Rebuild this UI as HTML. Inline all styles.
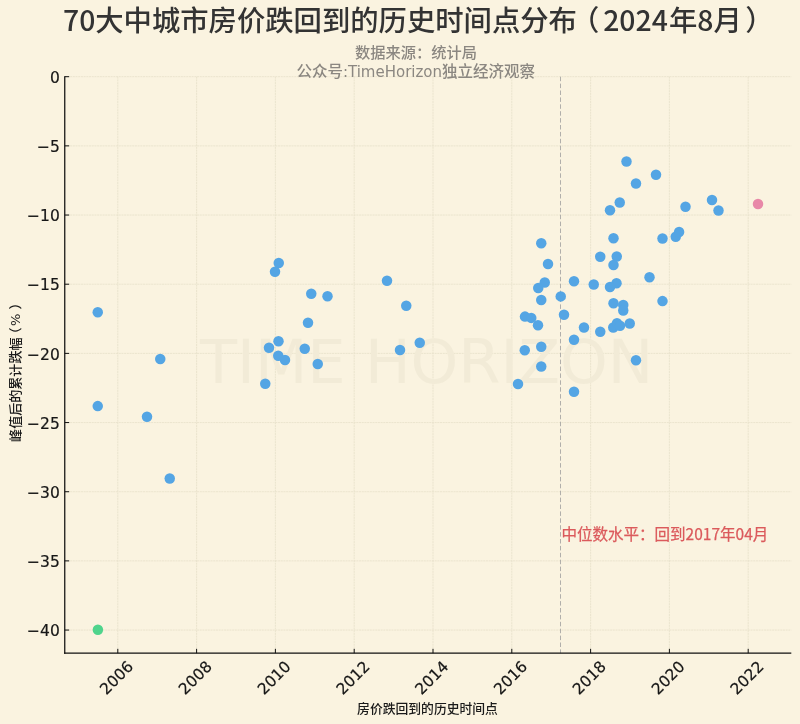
<!DOCTYPE html>
<html lang="zh"><head><meta charset="utf-8"><title>70大中城市房价跌回到的历史时间点分布</title>
<style>
html,body{margin:0;padding:0;background:#faf3e0;}
body{width:800px;height:724px;overflow:hidden;position:relative;}
svg{position:absolute;left:0;top:0;display:block}
.tk{font-family:"DejaVu Sans","Liberation Sans",sans-serif;font-size:15.5px;fill:#161616;stroke:#161616;stroke-width:0.2px}
.cj{font-family:"Liberation Sans","Noto Sans CJK SC",sans-serif}
.ttl{font-family:"Noto Sans CJK SC","Liberation Sans",sans-serif;font-weight:500;font-size:28.33px;fill:#333}
.sub{font-family:"DejaVu Sans","Noto Sans CJK SC",sans-serif;font-weight:500;font-size:15.25px;fill:#8b8781}
.lat{font-size:15px;font-weight:400}
.ann{font-family:"Noto Sans CJK SC","Liberation Sans",sans-serif;font-weight:400;font-size:15.52px;fill:#db5a5c;stroke:#db5a5c;stroke-width:0.25px}
.axl{font-family:"DejaVu Sans","Noto Sans CJK SC",sans-serif;font-weight:500;font-size:12.8px;fill:#1a1a1a}
.wm{font-family:"DejaVu Sans","Liberation Sans",sans-serif;font-size:60.7px;fill:#f2ebd7}
</style></head><body>
<svg width="800" height="724" viewBox="0 0 800 724">
<rect x="0" y="0" width="800" height="724" fill="#faf3e0"/>

<g stroke="#e9e2cc" stroke-width="0.9" stroke-dasharray="2 0.7" fill="none">
<line x1="117.80" y1="76.7" x2="117.80" y2="653.2"/>
<line x1="196.60" y1="76.7" x2="196.60" y2="653.2"/>
<line x1="275.40" y1="76.7" x2="275.40" y2="653.2"/>
<line x1="354.20" y1="76.7" x2="354.20" y2="653.2"/>
<line x1="433.00" y1="76.7" x2="433.00" y2="653.2"/>
<line x1="511.80" y1="76.7" x2="511.80" y2="653.2"/>
<line x1="590.60" y1="76.7" x2="590.60" y2="653.2"/>
<line x1="669.40" y1="76.7" x2="669.40" y2="653.2"/>
<line x1="748.20" y1="76.7" x2="748.20" y2="653.2"/>
<line x1="64.75" y1="76.70" x2="791.3" y2="76.70"/>
<line x1="64.75" y1="145.87" x2="791.3" y2="145.87"/>
<line x1="64.75" y1="215.04" x2="791.3" y2="215.04"/>
<line x1="64.75" y1="284.21" x2="791.3" y2="284.21"/>
<line x1="64.75" y1="353.38" x2="791.3" y2="353.38"/>
<line x1="64.75" y1="422.55" x2="791.3" y2="422.55"/>
<line x1="64.75" y1="491.72" x2="791.3" y2="491.72"/>
<line x1="64.75" y1="560.89" x2="791.3" y2="560.89"/>
<line x1="64.75" y1="630.06" x2="791.3" y2="630.06"/>
</g>
<text class="wm" x="426.6" y="382.6" text-anchor="middle">TIME HORIZON</text>
<line x1="560.5" y1="76.7" x2="560.5" y2="653.2" stroke="#a3a3a0" stroke-width="0.85" stroke-dasharray="4.5 2.4"/>
<g fill="#54a5e4">
<circle cx="97.75" cy="312.25" r="5.25"/>
<circle cx="160.25" cy="359" r="5.25"/>
<circle cx="97.75" cy="406.1" r="5.25"/>
<circle cx="147" cy="416.75" r="5.25"/>
<circle cx="169.75" cy="478.5" r="5.25"/>
<circle cx="278.75" cy="263" r="5.25"/>
<circle cx="275" cy="271.75" r="5.25"/>
<circle cx="311.25" cy="293.75" r="5.25"/>
<circle cx="327.5" cy="296.25" r="5.25"/>
<circle cx="308" cy="322.75" r="5.25"/>
<circle cx="278.5" cy="341.25" r="5.25"/>
<circle cx="269" cy="347.75" r="5.25"/>
<circle cx="278.25" cy="355.75" r="5.25"/>
<circle cx="285" cy="360" r="5.25"/>
<circle cx="304.75" cy="348.75" r="5.25"/>
<circle cx="317.75" cy="364" r="5.25"/>
<circle cx="265.25" cy="383.75" r="5.25"/>
<circle cx="387" cy="280.75" r="5.25"/>
<circle cx="406.25" cy="305.75" r="5.25"/>
<circle cx="419.75" cy="342.75" r="5.25"/>
<circle cx="400" cy="350" r="5.25"/>
<circle cx="626.5" cy="161.5" r="5.25"/>
<circle cx="656" cy="174.75" r="5.25"/>
<circle cx="636" cy="183.5" r="5.25"/>
<circle cx="619.75" cy="202.5" r="5.25"/>
<circle cx="610" cy="210.25" r="5.25"/>
<circle cx="613.5" cy="238.25" r="5.25"/>
<circle cx="662.5" cy="238.5" r="5.25"/>
<circle cx="675.75" cy="236.75" r="5.25"/>
<circle cx="679.1" cy="232" r="5.25"/>
<circle cx="541.25" cy="243.25" r="5.25"/>
<circle cx="600.25" cy="256.75" r="5.25"/>
<circle cx="616.75" cy="256.5" r="5.25"/>
<circle cx="613.5" cy="265" r="5.25"/>
<circle cx="548" cy="264" r="5.25"/>
<circle cx="649.5" cy="277.25" r="5.25"/>
<circle cx="544.75" cy="282.5" r="5.25"/>
<circle cx="538.25" cy="288" r="5.25"/>
<circle cx="574" cy="281.25" r="5.25"/>
<circle cx="593.75" cy="284.5" r="5.25"/>
<circle cx="616.5" cy="283.25" r="5.25"/>
<circle cx="610" cy="287" r="5.25"/>
<circle cx="541.25" cy="300" r="5.25"/>
<circle cx="560.75" cy="296.4" r="5.25"/>
<circle cx="662.5" cy="301.1" r="5.25"/>
<circle cx="613.5" cy="303.25" r="5.25"/>
<circle cx="623.25" cy="305" r="5.25"/>
<circle cx="623.25" cy="310.5" r="5.25"/>
<circle cx="564" cy="314.75" r="5.25"/>
<circle cx="525" cy="316.6" r="5.25"/>
<circle cx="531.25" cy="317.9" r="5.25"/>
<circle cx="538" cy="325.25" r="5.25"/>
<circle cx="584" cy="327.5" r="5.25"/>
<circle cx="600.25" cy="331.75" r="5.25"/>
<circle cx="613.25" cy="327.5" r="5.25"/>
<circle cx="617" cy="323.25" r="5.25"/>
<circle cx="620" cy="325.75" r="5.25"/>
<circle cx="629.75" cy="323.5" r="5.25"/>
<circle cx="574" cy="339.75" r="5.25"/>
<circle cx="541.25" cy="346.75" r="5.25"/>
<circle cx="524.75" cy="350.25" r="5.25"/>
<circle cx="541.25" cy="366.5" r="5.25"/>
<circle cx="636" cy="360.25" r="5.25"/>
<circle cx="518" cy="384" r="5.25"/>
<circle cx="574" cy="391.75" r="5.25"/>
<circle cx="685.5" cy="206.75" r="5.25"/>
<circle cx="712" cy="200" r="5.25"/>
<circle cx="718.5" cy="210.5" r="5.25"/>
</g>
<circle cx="97.9" cy="629.8" r="5.25" fill="#4fd48c"/>
<circle cx="758" cy="204" r="5.25" fill="#e888a8"/>
<g stroke="#111" stroke-width="1.25" fill="none"><line x1="64.75" y1="76.2" x2="64.75" y2="653.8000000000001"/><line x1="64.05" y1="653.2" x2="791.3" y2="653.2"/></g>
<g stroke="#111" stroke-width="1">
<line x1="117.80" y1="653.2" x2="117.80" y2="648.8000000000001"/>
<line x1="196.60" y1="653.2" x2="196.60" y2="648.8000000000001"/>
<line x1="275.40" y1="653.2" x2="275.40" y2="648.8000000000001"/>
<line x1="354.20" y1="653.2" x2="354.20" y2="648.8000000000001"/>
<line x1="433.00" y1="653.2" x2="433.00" y2="648.8000000000001"/>
<line x1="511.80" y1="653.2" x2="511.80" y2="648.8000000000001"/>
<line x1="590.60" y1="653.2" x2="590.60" y2="648.8000000000001"/>
<line x1="669.40" y1="653.2" x2="669.40" y2="648.8000000000001"/>
<line x1="748.20" y1="653.2" x2="748.20" y2="648.8000000000001"/>
<line x1="64.75" y1="76.70" x2="69.15" y2="76.70"/>
<line x1="64.75" y1="145.87" x2="69.15" y2="145.87"/>
<line x1="64.75" y1="215.04" x2="69.15" y2="215.04"/>
<line x1="64.75" y1="284.21" x2="69.15" y2="284.21"/>
<line x1="64.75" y1="353.38" x2="69.15" y2="353.38"/>
<line x1="64.75" y1="422.55" x2="69.15" y2="422.55"/>
<line x1="64.75" y1="491.72" x2="69.15" y2="491.72"/>
<line x1="64.75" y1="560.89" x2="69.15" y2="560.89"/>
<line x1="64.75" y1="630.06" x2="69.15" y2="630.06"/>
</g>
<text class="tk" x="59.8" y="82.90" text-anchor="end">0</text>
<text class="tk" x="59.8" y="152.07" text-anchor="end">−5</text>
<text class="tk" x="59.8" y="221.24" text-anchor="end">−10</text>
<text class="tk" x="59.8" y="290.41" text-anchor="end">−15</text>
<text class="tk" x="59.8" y="359.58" text-anchor="end">−20</text>
<text class="tk" x="59.8" y="428.75" text-anchor="end">−25</text>
<text class="tk" x="59.8" y="497.92" text-anchor="end">−30</text>
<text class="tk" x="59.8" y="567.09" text-anchor="end">−35</text>
<text class="tk" x="59.8" y="636.26" text-anchor="end">−40</text>
<text class="tk" transform="translate(116.30 677.6) rotate(-45)" x="0" y="5.6" text-anchor="middle">2006</text>
<text class="tk" transform="translate(195.10 677.6) rotate(-45)" x="0" y="5.6" text-anchor="middle">2008</text>
<text class="tk" transform="translate(273.90 677.6) rotate(-45)" x="0" y="5.6" text-anchor="middle">2010</text>
<text class="tk" transform="translate(352.70 677.6) rotate(-45)" x="0" y="5.6" text-anchor="middle">2012</text>
<text class="tk" transform="translate(431.50 677.6) rotate(-45)" x="0" y="5.6" text-anchor="middle">2014</text>
<text class="tk" transform="translate(510.30 677.6) rotate(-45)" x="0" y="5.6" text-anchor="middle">2016</text>
<text class="tk" transform="translate(589.10 677.6) rotate(-45)" x="0" y="5.6" text-anchor="middle">2018</text>
<text class="tk" transform="translate(667.90 677.6) rotate(-45)" x="0" y="5.6" text-anchor="middle">2020</text>
<text class="tk" transform="translate(746.70 677.6) rotate(-45)" x="0" y="5.6" text-anchor="middle">2022</text>
<text class="axl" x="427.5" y="712.5" text-anchor="middle">房价跌回到的历史时间点</text>
<text class="axl" style="font-size:13.05px" transform="translate(20.3 441.9) rotate(-90)">峰值后的累计跌幅<tspan dx="-3">（</tspan><tspan dx="1.5">%</tspan><tspan dx="4">）</tspan></text>
<text class="ttl" x="63" y="31.3">70大中城市房价跌回到的历史时间点分布<tspan dx="-6">（</tspan><tspan dx="4">2024</tspan><tspan dx="1.2">年8月</tspan><tspan dx="3.5">）</tspan></text>
<text class="sub" x="416" y="57.8" text-anchor="middle">数据来源：统计局</text>
<text class="sub" style="font-size:15.5px" x="296.4" y="77.3">公众号<tspan class="lat">:TimeHorizon</tspan>独立经济观察</text>
<text class="ann" x="561.5" y="539.5">中位数水平：回到2017年04月</text>
</svg></body></html>
